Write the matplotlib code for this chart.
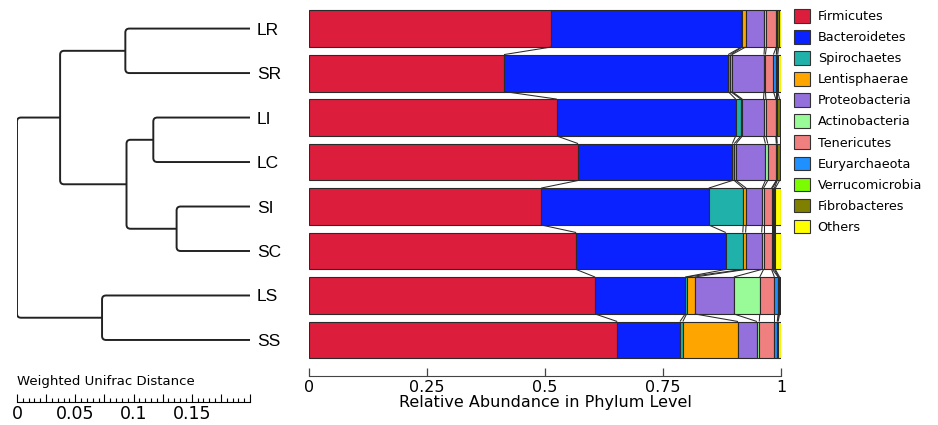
"""
Phylum-level relative abundance per sample, with UPGMA tree (weighted UniFrac) on the left.
"""
import matplotlib

matplotlib.use("Agg")
import matplotlib.pyplot as plt
import numpy as np
from matplotlib.patches import Patch, PathPatch
from matplotlib.path import Path
from matplotlib.ticker import FuncFormatter, MultipleLocator

samples = ["LR", "SR", "LI", "LC", "SI", "SC", "LS", "SS"]

# relative abundance, one list per phylum, order follows `samples`
firmicutes = [0.513, 0.413, 0.525, 0.570, 0.492, 0.566, 0.606, 0.653]
bacteroidetes = [0.403, 0.475, 0.379, 0.327, 0.355, 0.317, 0.191, 0.133]
spirochaetes = [0.002, 0.005, 0.011, 0.004, 0.073, 0.036, 0.003, 0.006]
lentisphaerae = [0.007, 0.003, 0.003, 0.004, 0.006, 0.006, 0.017, 0.117]
proteobacteria = [0.040, 0.068, 0.045, 0.062, 0.034, 0.034, 0.083, 0.040]
actinobacteria = [0.004, 0.003, 0.005, 0.005, 0.003, 0.004, 0.055, 0.005]
tenericutes = [0.021, 0.017, 0.021, 0.018, 0.017, 0.017, 0.031, 0.032]
euryarchaeota = [0.001, 0.006, 0.001, 0.001, 0.002, 0.002, 0.008, 0.006]
verrucomicrobia = [0.001, 0.001, 0.001, 0.001, 0.004, 0.004, 0.001, 0.001]
fibrobacteres = [0.003, 0.002, 0.006, 0.005, 0.002, 0.002, 0.002, 0.001]
others = [0.005, 0.007, 0.003, 0.003, 0.012, 0.012, 0.003, 0.006]

phyla = ["Firmicutes", "Bacteroidetes", "Spirochaetes", "Lentisphaerae", "Proteobacteria",
         "Actinobacteria", "Tenericutes", "Euryarchaeota", "Verrucomicrobia", "Fibrobacteres", "Others"]
colors = ["#DC1E3C", "#0A22FF", "#20B2AA", "#FFA500", "#9370DB",
          "#98FB98", "#F08080", "#1E90FF", "#7CFC00", "#808000", "#FFFF00"]

# tree merges: (child a, child b, height); leaves 0..7, new clusters numbered from 8
merges = [(0, 1, 0.107), (2, 3, 0.083), (4, 5, 0.063), (6, 7, 0.127),
          (9, 10, 0.106), (8, 12, 0.163), (13, 11, 0.200)]

W, H = 938, 425
fig = plt.figure(figsize=(W / 100, H / 100), dpi=100)


def px_axes(left, top, right, bottom):
    return fig.add_axes([left / W, 1 - bottom / H, (right - left) / W, (bottom - top) / H])


ylim = (7.81, -0.53)
bar_h = 0.83
ypos = np.arange(len(samples))

# ---- stacked bars
ax = px_axes(309, 5, 781, 376)
data = np.array([firmicutes, bacteroidetes, spirochaetes, lentisphaerae, proteobacteria,
                 actinobacteria, tenericutes, euryarchaeota, verrucomicrobia, fibrobacteres, others])
left = np.zeros(len(samples))
for vals, c in zip(data, colors):
    ax.barh(ypos, vals, left=left, height=bar_h, color=c, edgecolor="#2a2a2a", linewidth=0.8)
    left = left + vals

# lines joining segment boundaries of neighbouring bars
cum = np.cumsum(data, axis=0)
for i in range(len(samples) - 1):
    for b in cum:
        ax.plot([b[i], b[i + 1]], [ypos[i] + bar_h / 2, ypos[i + 1] - bar_h / 2],
                color="#2a2a2a", lw=0.75, solid_capstyle="butt")

ax.set_xlim(0, 1)
ax.set_ylim(*ylim)
ax.set_yticks([])
for s in ["top", "left", "right"]:
    ax.spines[s].set_visible(False)
ax.spines["bottom"].set_color("#444444")
ax.set_xticks([0, 0.25, 0.5, 0.75, 1])
ax.set_xticklabels(["0", "0.25", "0.5", "0.75", "1"])
ax.tick_params(axis="x", direction="in", length=6, width=0.9, color="#444444", labelsize=11.5, pad=3)
ax.set_xlabel("Relative Abundance in Phylum Level", fontsize=11.5, labelpad=0)

# ---- dendrogram
tx = px_axes(17, 5, 250, 376)
tx.set_xlim(0.2, 0)
tx.set_ylim(*ylim)
rx = 4 * 0.2 / 233
ry = 4 * (ylim[0] - ylim[1]) / 371
node_y = {i: float(y) for i, y in enumerate(ypos)}
node_h = {i: 0.0 for i in range(len(samples))}
for k, (a, b, h) in enumerate(merges):
    if node_y[a] > node_y[b]:
        a, b = b, a
    ya, yb = node_y[a], node_y[b]
    verts = [(node_h[a], ya), (h - rx, ya), (h, ya), (h, ya + ry),
             (h, yb - ry), (h, yb), (h - rx, yb), (node_h[b], yb)]
    codes = [Path.MOVETO, Path.LINETO, Path.CURVE3, Path.CURVE3,
             Path.LINETO, Path.CURVE3, Path.CURVE3, Path.LINETO]
    tx.add_patch(PathPatch(Path(verts, codes), facecolor="none", edgecolor="#222222", lw=1.4))
    nid = len(samples) + k
    node_y[nid] = (ya + yb) / 2
    node_h[nid] = h
for s in tx.spines.values():
    s.set_visible(False)
tx.set_xticks([])
tx.yaxis.tick_right()
tx.set_yticks(ypos)
tx.set_yticklabels(samples, fontsize=12.5, family="Liberation Sans")
tx.tick_params(axis="y", length=0, pad=5)

# ---- distance scale
sx = px_axes(17, 389, 250, 402)
sx.set_xlim(0, 0.2)
sx.set_yticks([])
for s in ["top", "left", "right"]:
    sx.spines[s].set_visible(False)
sx.patch.set_visible(False)
sx.xaxis.set_major_locator(MultipleLocator(0.025))
sx.xaxis.set_minor_locator(MultipleLocator(0.005))
sx.xaxis.set_major_formatter(FuncFormatter(
    lambda v, p: f"{v:g}" if abs(v / 0.05 - round(v / 0.05)) < 1e-6 and v < 0.19 else ""))
sx.tick_params(axis="x", which="major", direction="in", length=6, width=0.8, labelsize=12.5, pad=2)
sx.tick_params(axis="x", which="minor", direction="in", length=3, width=0.8)
sx.set_title("Weighted Unifrac Distance", loc="left", fontsize=9.5, pad=3)

# ---- legend
handles = [Patch(facecolor=c, edgecolor="#333333", lw=0.8) for c in colors]
fig.legend(handles, phyla, loc="upper left", bbox_to_anchor=(794 / W, 1 - 9 / H), frameon=False,
           fontsize=9.2, handlelength=1.25, handleheight=1.25, handletextpad=0.6,
           labelspacing=0.55, borderpad=0, borderaxespad=0)

fig.savefig("out.png", dpi=100)
